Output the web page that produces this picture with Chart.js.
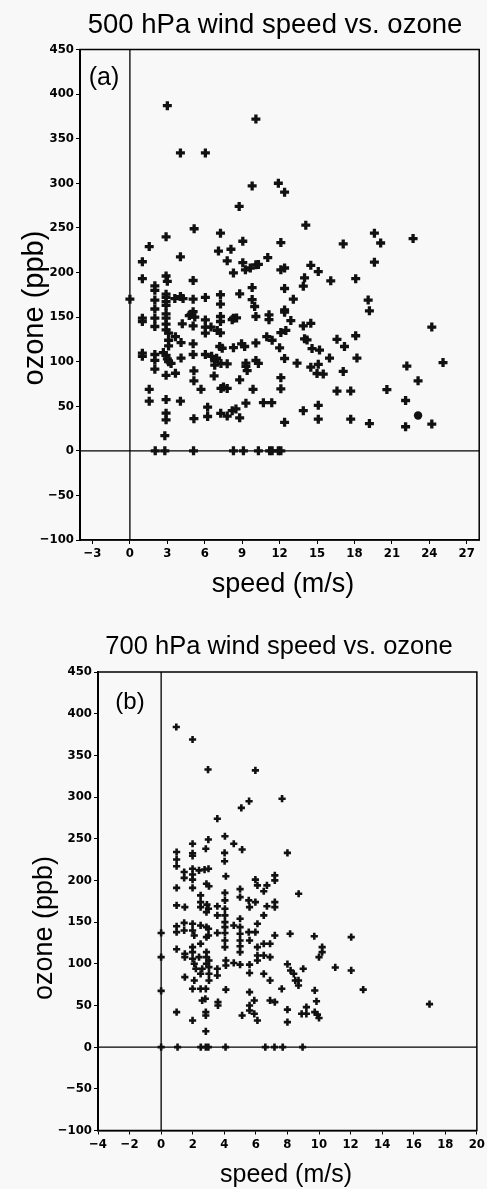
<!DOCTYPE html>
<html>
<head>
<meta charset="utf-8">
<script src="https://cdn.jsdelivr.net/npm/chart.js@4.4.1/dist/chart.umd.min.js"></script>
<style>
  body { margin: 0; background: #f8f8f8; }
  #wrap { position: relative; width: 487px; height: 1189px; }
  canvas { position: absolute; left: 0; }
</style>
</head>
<body>
<div id="wrap">
  <canvas id="chartA" width="487" height="610" style="top:0"></canvas>
  <canvas id="chartB" width="487" height="579" style="top:610px"></canvas>
</div>
<script>
// ---- data: [speed m/s, ozone ppb] ----
const xTicks500 = [-3, 0, 3, 6, 9, 12, 15, 18, 21, 24, 27];
const xTicks700 = [-4, -2, 0, 2, 4, 6, 8, 10, 12, 14, 16, 18, 20];
const yTicks = [-100, -50, 0, 50, 100, 150, 200, 250, 300, 350, 400, 450];

const wind500 = [
  [3.0,387],[10.1,372],[4.05,334],[6.05,334],[9.8,297],[11.9,300],[12.4,290],[8.76,274],
  [14.1,253],[19.6,244],[22.7,238],[2.9,240],[5.15,249],[7.26,244],[9.05,235],[12.1,233.5],
  [17.1,232],[20.1,233],[1.55,229],[7.1,224],[8.1,226],[4.05,217.5],[7.8,213],[11.05,216.7],
  [1.0,212],[9.05,211],[9.65,205],[10.1,208.5],[10.3,209],[8.3,199.5],[9.26,203],[19.6,211.5],
  [14.5,208],[12.4,205],[12.1,203],[15.1,201],[14.0,194],[16.1,190.6],[18.1,193],[13.9,184.6],
  [12.4,182],[1.0,193],[2.9,196],[3.0,190],[5.07,191],[2.0,185],[9.8,183],[2.0,180],
  [2.9,175.7],[2.9,172],[0,170],[3.6,170.7],[4.05,173],[4.26,170.7],[5.07,170],[6.05,172],
  [7.26,175],[7.26,164.5],[8.8,176],[2.0,169],[2.9,167.4],[9.8,169.6],[10.0,161.8],[13.1,170],
  [19.1,169],[2.0,159],[2.9,163],[5.07,156],[4.76,151.7],[4.9,153],[5.2,150],[1.0,148.7],
  [1.0,145],[2.9,153.6],[2.9,148.7],[2.0,148.7],[6.05,146.8],[7.26,150.6],[7.26,145],[8.3,148.7],
  [10.1,150.6],[11.15,152.5],[11.15,147],[12.4,158],[12.4,155.5],[19.2,157],[12.9,146],[2.0,139.4],
  [2.9,142],[2.9,135.6],[3.1,132],[4.2,142.4],[5.07,140],[6.05,138.7],[6.5,138.7],[7.0,135],
  [7.26,132.3],[6.05,132],[8.2,147],[8.55,149],[13.9,140],[14.5,143],[24.2,138.7],[12.1,132.6],
  [12.5,135],[10.97,128],[11.4,124],[10.1,121],[3.65,128],[3.1,124],[4.1,121.4],[5.07,120],
  [3.1,117.6],[8.95,120],[9.2,117],[8.3,115.6],[12.0,115.5],[7.2,117],[7.4,115],[14.0,125.6],
  [14.2,124.4],[16.6,125],[18.1,129],[17.2,117],[14.6,114.7],[15.2,113],[1.0,109.5],[1.0,106],
  [2.0,108],[2.68,110.2],[2.9,107],[4.1,104],[5.07,108],[6.05,108],[6.55,106],[6.95,103.8],
  [6.8,100.8],[7.3,98],[7.8,97.5],[2.0,101.5],[2.0,91.6],[3.0,103],[3.1,100],[3.3,98],
  [3.65,87],[2.9,84.7],[6.8,96],[6.75,84],[9.3,98.3],[9.3,94.6],[10.1,101.3],[10.3,98],
  [9.4,90],[5.13,89.7],[5.13,78.5],[8.8,79.6],[12.1,82],[12.4,103.5],[13.4,98.3],[16.0,104],
  [18.2,104],[14.5,93.8],[15.1,97],[15.0,86.7],[15.5,86],[17.1,89],[22.2,95],[25.1,99],
  [12.1,69.5],[16.6,67],[17.7,67],[20.6,68.7],[23.1,78.5],[22.1,56.4],[13.9,45],[15.1,51],
  [15.1,35.5],[17.7,35.5],[19.2,30.6],[22.1,27],[24.2,30],[12.4,32],[1.55,69],[1.55,55.7],
  [2.9,57.5],[4.05,55.7],[5.7,69],[7.3,70],[7.8,70],[7.5,71.5],[9.87,69],[9.3,53.4],
  [10.7,54],[11.37,54],[6.23,48.9],[6.23,38.5],[2.9,42.2],[2.9,34.8],[5.13,36],[7.28,42],
  [7.8,39],[8.2,45],[8.5,47],[8.8,37],[2.8,17],
  [2.03,0],[2.8,0],[5.1,0],[8.3,0],[9.1,0],[10.3,0],[11.2,0],[11.4,0],[11.9,0],[12.1,0]
];
const dot500 = [[23.1,39.6]];

const wind700 = [
  [0.96,384],[1.99,369],[2.97,333],[5.97,332],[7.66,298],[5.57,295],[5.08,287],[3.56,274],
  [4.04,253],[2.99,249],[1.99,244],[4.6,244],[5.13,237],[2.83,238],[0.98,234],[0.98,225],
  [0.98,217],[1.99,232.5],[1.99,229.5],[4.02,233],[4.02,223],[8.0,233],[1.46,210],[1.46,203],
  [1.99,214],[1.99,207],[1.99,201],[2.4,212],[2.75,213],[3.0,214],[4.1,205],[2.87,196],
  [3.03,193],[0.98,191],[1.99,191],[2.5,182],[4.04,185],[5.0,189.5],[5.0,180],[5.97,201],
  [6.1,194],[6.7,194],[7.2,206],[7.2,200],[6.5,187],[8.71,184],[0.98,170],[1.5,168],
  [2.5,174],[2.5,168],[2.9,171],[3.0,166],[2.87,162],[3.56,169],[4.04,176],[4.04,166],
  [4.04,158],[3.56,158],[5.0,154],[5.55,176],[5.6,168],[5.97,174],[6.7,169],[7.2,174],
  [7.2,168],[6.5,158],[0.98,145],[0.98,138],[1.46,149],[1.46,140],[1.99,148],[1.99,140],
  [2.1,134],[2.5,146],[2.87,144],[3.0,142],[2.87,132],[3.0,134],[3.56,137],[4.04,150],
  [4.04,144],[4.04,137],[4.04,128],[4.04,120],[4.6,146],[5.0,144],[5.0,136],[5.0,128],
  [5.0,121],[5.0,114],[5.55,138],[5.6,128],[5.97,138],[6.1,148],[6.1,120],[6.5,124],
  [6.9,124],[7.2,134],[8.17,136],[9.7,133],[12.04,132],[10.2,120],[10.2,114],[10.0,108],
  [0,137],[0,108],[0,67.5],[0.98,117.5],[1.5,108],[1.5,112],[1.99,120],[1.99,114],
  [1.99,106],[2.1,100],[2.2,94],[2.4,108],[2.5,124],[2.87,114],[2.87,108],[2.87,100],
  [3.03,104],[3.03,96],[3.03,88],[3.03,80],[2.6,94],[2.5,88],[2.1,80],[1.5,84],
  [1.99,70],[2.5,70],[2.83,70],[3.56,94],[3.56,86],[4.1,104],[4.1,98],[4.6,101],
  [5.0,99],[5.6,99],[5.6,89],[6.1,110],[6.1,104],[6.5,110],[6.9,108],[6.5,88],
  [6.9,80],[7.64,70],[8.2,92],[8.4,88],[8.0,99.5],[9.0,94],[11.03,95.6],[12.04,92],
  [8.7,80],[8.7,74],[9.73,68],[12.8,69],[9.84,55],[9.2,48],[8.9,40],[9.2,40],
  [9.73,42],[9.9,39],[10.0,35],[5.6,66],[5.9,56],[4.1,69],[3.6,54],[3.6,50],
  [2.6,56],[2.8,58],[2.83,42],[2.83,38],[0.98,42],[1.99,32],[2.83,19],[5.13,38],
  [5.6,50],[5.6,44],[5.9,40],[6.1,32],[6.9,56],[7.2,54],[8.0,45],[8.0,30],
  [8.5,80],[17.0,51.6],
  [0,0],[1.04,0],[2.51,0],[2.83,0],[2.99,0],[4.08,0],[6.6,0],[7.18,0],[7.7,0],[8.96,0]
];

const toPts = arr => arr.map(p => ({ x: p[0], y: p[1] }));

// box around the plot, zero lines and the text labels
const panelPlugin = {
  id: 'panel',
  beforeDatasetsDraw(chart, args, o) {
    const { ctx, chartArea: a, scales } = chart;
    const x0 = scales.x.getPixelForValue(0);
    const y0 = scales.y.getPixelForValue(0);
    ctx.save();
    ctx.strokeStyle = '#000';
    ctx.lineWidth = 1.5;
    ctx.strokeRect(a.left, a.top, a.width, a.height);
    ctx.lineWidth = 1.3;
    ctx.beginPath();
    ctx.moveTo(x0, a.top); ctx.lineTo(x0, a.bottom);
    ctx.moveTo(a.left, y0); ctx.lineTo(a.right, y0);
    ctx.stroke();
    ctx.restore();
  },
  afterDraw(chart, args, o) {
    const ctx = chart.ctx;
    ctx.save();
    ctx.fillStyle = '#000';
    ctx.textAlign = 'center';
    ctx.textBaseline = 'middle';
    ctx.font = o.titleFont;
    ctx.fillText(o.title, o.titleX, o.titleY);
    ctx.font = o.tagFont;
    ctx.fillText(o.tag, o.tagX, o.tagY);
    ctx.font = o.xFont;
    ctx.fillText(o.xLabel, o.xLabelX, o.xLabelY);
    ctx.translate(o.yLabelX, o.yLabelY);
    ctx.rotate(-Math.PI / 2);
    ctx.font = o.yFont;
    ctx.fillText(o.yLabel, 0, 0);
    ctx.restore();
  }
};

const tickFont = { family: "'DejaVu Sans Condensed', 'DejaVu Sans', sans-serif", size: 13, weight: 'bold' };
const minus = v => String(v).replace('-', '\u2212');

function makeChart(id, sets, xr, xTicks, box, text) {
  const axisGrid = { display: true, drawOnChartArea: false, drawTicks: true, tickLength: 4, color: '#000', lineWidth: 1 };
  return new Chart(document.getElementById(id), {
    type: 'scatter',
    data: { datasets: sets },
    options: {
      responsive: false,
      animation: false,
      events: [],
      layout: { padding: { top: box.top, right: box.right, left: 0, bottom: 0 } },
      plugins: { legend: { display: false }, tooltip: { enabled: false }, panel: text },
      scales: {
        x: {
          type: 'linear', min: xr[0], max: xr[1],
          afterBuildTicks: s => { s.ticks = xTicks.map(v => ({ value: v })); },
          afterFit: s => { s.height = box.xh; },
          grid: axisGrid,
          border: { display: true, color: '#000', width: 1.5 },
          ticks: { font: tickFont, color: '#000', padding: 2, maxRotation: 0, autoSkip: false, callback: minus }
        },
        y: {
          type: 'linear', min: -100, max: 450,
          afterBuildTicks: s => { s.ticks = yTicks.map(v => ({ value: v })); },
          afterFit: s => { s.width = box.yw; },
          grid: axisGrid,
          border: { display: true, color: '#000', width: 2 },
          ticks: { font: tickFont, color: '#000', padding: 2, autoSkip: false, callback: minus }
        }
      }
    },
    plugins: [panelPlugin]
  });
}

const sans = "'Liberation Sans', Arial, Helvetica, sans-serif";

makeChart('chartA', [
  { data: toPts(wind500), pointStyle: 'cross', pointRadius: 4.5, pointBorderWidth: 3.3,
    borderColor: '#111', backgroundColor: '#111', showLine: false },
  { data: toPts(dot500), pointStyle: 'circle', pointRadius: 4.2, pointBorderWidth: 0,
    borderColor: '#111', backgroundColor: '#111', showLine: false }
], [-4, 28], xTicks500, { top: 49.5, right: 1, xh: 70, yw: 80 }, {
  title: '500 hPa wind speed vs. ozone', titleX: 275, titleY: 25, titleFont: '27.5px ' + sans,
  tag: '(a)', tagX: 104, tagY: 78, tagFont: '25px ' + sans,
  xLabel: 'speed (m/s)', xLabelX: 283, xLabelY: 585, xFont: '27px ' + sans,
  yLabel: 'ozone (ppb)', yLabelX: 35, yLabelY: 308, yFont: '29px ' + sans
});

makeChart('chartB', [
  { data: toPts(wind700), pointStyle: 'cross', pointRadius: 3.6, pointBorderWidth: 2.6,
    borderColor: '#111', backgroundColor: '#111', showLine: false }
], [-4, 20], xTicks700, { top: 62, right: 7, xh: 58.5, yw: 98 }, {
  title: '700 hPa wind speed vs. ozone', titleX: 279, titleY: 37, titleFont: '25.5px ' + sans,
  tag: '(b)', tagX: 130, tagY: 92, tagFont: '24px ' + sans,
  xLabel: 'speed (m/s)', xLabelX: 286, xLabelY: 565, xFont: '25px ' + sans,
  yLabel: 'ozone (ppb)', yLabelX: 45, yLabelY: 318, yFont: '27px ' + sans
});
</script>
</body>
</html>
